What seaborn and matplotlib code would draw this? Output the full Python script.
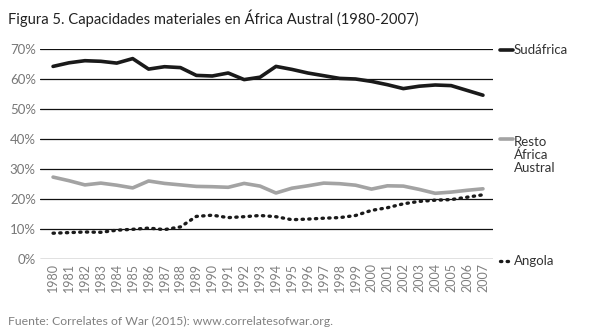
import matplotlib
matplotlib.use("Agg")
import matplotlib.pyplot as plt
import seaborn as sns
import pandas as pd
import numpy as np

years = list(range(1980, 2008))
sudafrica = [64.2, 65.4, 66.1, 65.9, 65.3, 66.8, 63.3, 64.1, 63.8, 61.2, 61.0, 62.0, 59.8, 60.6, 64.2, 63.2,
             62.0, 61.1, 60.2, 60.0, 59.2, 58.1, 56.8, 57.6, 58.0, 57.8, 56.2, 54.6]
resto = [27.3, 26.1, 24.7, 25.3, 24.6, 23.7, 26.0, 25.2, 24.7, 24.2, 24.1, 23.9, 25.2, 24.3, 22.0, 23.6,
         24.4, 25.3, 25.1, 24.6, 23.3, 24.4, 24.3, 23.2, 21.9, 22.3, 22.9, 23.4]
angola = [8.6, 8.8, 9.0, 8.9, 9.6, 9.9, 10.3, 9.8, 10.7, 14.2, 14.6, 13.8, 14.1, 14.5, 14.1, 13.1,
          13.3, 13.6, 13.8, 14.5, 16.2, 17.1, 18.4, 19.2, 19.6, 19.8, 20.6, 21.4]
series_names = ["Sudáfrica", "Resto\nÁfrica\nAustral", "Angola"]
yticks = [0, 10, 20, 30, 40, 50, 60, 70]

sns.set_theme(style="white")
plt.rcParams['font.family'] = ['Lato', 'DejaVu Sans']

W, H = 589, 331
fig = plt.figure(figsize=(W / 100, H / 100), dpi=100)
ax = fig.add_axes([40 / W, 1 - 259 / H, (493 - 40) / W, (259 - 49) / H])

df = pd.DataFrame({"year": years, "Sudáfrica": sudafrica, "Resto": resto, "Angola": angola})

for y in yticks:
    ax.axhline(y, color="#111111", lw=0.9, zorder=1)

sns.lineplot(data=df, x="year", y="Sudáfrica", ax=ax, color="#1a1a1a", lw=2.6, zorder=3)
sns.lineplot(data=df, x="year", y="Resto", ax=ax, color="#a3a3a3", lw=2.6, zorder=3)
sns.lineplot(data=df, x="year", y="Angola", ax=ax, color="#1a1a1a", lw=2.4, zorder=3,
             linestyle=(0, (0.4, 1.6)), dash_capstyle="round")

ax.set_xlim(1980 - 13 / 15.85, 2007 + 10 / 15.85)
ax.set_ylim(0, 70)
for s in ax.spines.values():
    s.set_visible(False)
ax.set_xlabel("")
ax.set_ylabel("")
ax.set_yticks(yticks)
ax.set_yticklabels([f"{v}%" for v in yticks], color="#777777", fontsize=9.5)
ax.set_xticks(years)
ax.set_xticklabels([str(y) for y in years], rotation=90, color="#808080", fontsize=9)
ax.tick_params(axis="both", length=0, pad=3)

def fx(px):
    return px / W

def fy(py):
    return 1 - py / H

fig.add_artist(plt.Line2D([fx(500), fx(513)], [fy(50), fy(50)], color="#1a1a1a", lw=2.6))
fig.text(fx(514), fy(50), series_names[0], fontsize=9.5, color="#333333", va="center", ha="left")
fig.add_artist(plt.Line2D([fx(500), fx(513)], [fy(139), fy(139)], color="#a3a3a3", lw=2.6))
fig.text(fx(514), fy(136), series_names[1], fontsize=9.5, color="#333333", va="top", ha="left",
         linespacing=1.05)
fig.add_artist(plt.Line2D([fx(500), fx(513)], [fy(261), fy(261)], color="#1a1a1a", lw=2.4,
                          linestyle=(0, (0.4, 1.6)), dash_capstyle="round"))
fig.text(fx(514), fy(261), series_names[2], fontsize=9.5, color="#333333", va="center", ha="left")

fig.text(fx(8), fy(18), "Figura 5. Capacidades materiales en África Austral (1980-2007)",
         fontsize=10.6, color="#222222", va="center", ha="left")
fig.text(fx(8), fy(321), "Fuente: Correlates of War (2015): www.correlatesofwar.org.",
         fontsize=8.8, color="#808080", va="center", ha="left")

fig.savefig("out.png", dpi=100)
